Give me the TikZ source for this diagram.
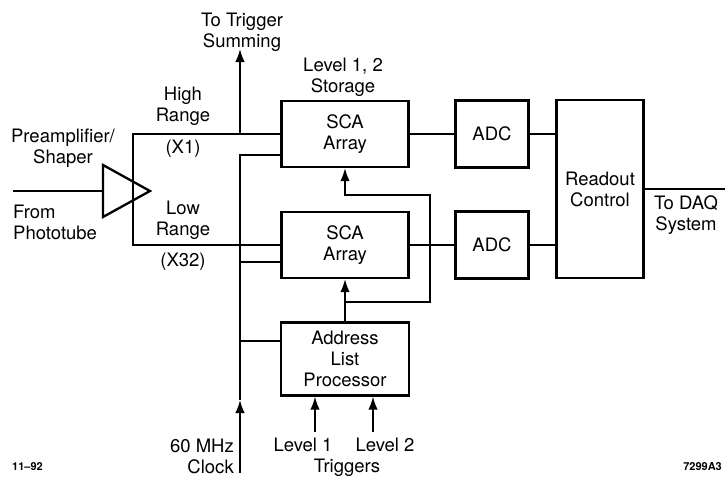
\documentclass[tikz,border=0pt]{standalone}
\usepackage{fontspec}
\setmainfont{TeX Gyre Heros}
\usetikzlibrary{arrows.meta}

\tikzset{
  blk/.style={draw, line width=2.3pt, align=center, inner sep=0pt},
  wire/.style={line width=1.6pt},
  sig/.style={line width=1.6pt, -{Latex[length=13pt,width=9.5pt]}},
  lbl/.style={align=center, inner sep=0pt},
  tag/.style={inner sep=0pt, font=\bfseries\fontsize{11}{13}\selectfont},
}

\begin{document}
\begin{tikzpicture}[x=1pt, y=-1pt, font=\fontsize{18.5}{21}\selectfont]
\useasboundingbox (0,0) rectangle (725,482);
% blocks
\node[blk, minimum width=127pt, minimum height=66pt] (sca1) at (345,134) {SCA\\Array};
\node[blk, minimum width=127pt, minimum height=66pt] (sca2) at (345,245) {SCA\\Array};
\node[blk, minimum width=128pt, minimum height=73pt] (alp) at (345,359) {Address\\List\\Processor};
\node[blk, minimum width=73pt, minimum height=67pt] (adc1) at (492,134) {ADC};
\node[blk, minimum width=73pt, minimum height=67pt] (adc2) at (492,245) {ADC};
\node[blk, minimum width=87pt, minimum height=178pt] (ro) at (600,189) {Readout\\Control};
% preamplifier
\coordinate (pmt) at (13,191);
\coordinate (ampin) at (103,191);
\draw[line width=2.3pt] (103,165) -- (150,191) -- (103,217) -- cycle;
\draw[wire] (pmt) -- (ampin);
% points on the wires
\coordinate (hi) at (133,134);
\coordinate (lo) at (133,245);
\coordinate (tap) at (240,134);
\coordinate (tsum) at (240,49);
\coordinate (clk) at (240,473);
\coordinate (clkarr) at (240,400);
\coordinate (c1) at (240,155);
\coordinate (c2) at (240,262);
\coordinate (c3) at (240,341);
\coordinate (fb) at (345,302);
\coordinate (fbr) at (430,195);
\coordinate (lv1) at (315,432);
\coordinate (lv2) at (373,432);
\coordinate (daq) at (725,189);
% wires
\draw[wire] (sca1.west) -- (hi) -- (lo) -- (sca2.west);
\draw[sig] (tap) -- (tsum);
\draw[sig] (clk) -- (clkarr);
\draw[wire] (clkarr) -- (c1) -- (c1 -| sca1.west);
\draw[wire] (c2) -- (c2 -| sca2.west);
\draw[wire] (c3) -- (c3 -| alp.west);
\draw[sig] (alp.north) -- (sca2.south);
\draw[sig] (fb) -| (fbr) -| (sca1.south);
\draw[sig] (lv1) -- (lv1 |- alp.south);
\draw[sig] (lv2) -- (lv2 |- alp.south);
\draw[wire] (sca1.east) -- (adc1.west);
\draw[wire] (sca2.east) -- (adc2.west);
\draw[wire] (adc1.east) -- (adc1.east -| ro.west);
\draw[wire] (adc2.east) -- (adc2.east -| ro.west);
\draw[wire] (ro.east) -- (daq);
% labels
\node[lbl] (preamp) at (63,148) {Preamplifier/\\Shaper};
\node[lbl, align=left, anchor=west] (pmtlbl) at (13,222) {From\\Phototube};
\node[lbl] (hilbl) at (183,106) {High\\Range};
\node[lbl] (x1) at (183,149) {(X1)};
\node[lbl] (lolbl) at (183,220) {Low\\Range};
\node[lbl] (x32) at (183,262) {(X32)};
\node[lbl] (tsumlbl) at (242,32) {To Trigger\\Summing};
\node[lbl] (stor) at (343,77) {Level 1, 2\\Storage};
\node[lbl] (daqlbl) at (686,215) {To DAQ\\System};
\node[lbl, align=right, anchor=east] (clklbl) at (234,456) {60 MHz\\Clock};
\node[lbl] (lv1lbl) at (303,445) {Level 1};
\node[lbl] (lv2lbl) at (385,445) {Level 2};
\node[lbl] (trig) at (347,468) {Triggers};
\node[tag, anchor=west] (date) at (12,467) {11--92};
\node[tag, anchor=east] (fig) at (722,467) {7299A3};
\end{tikzpicture}
\end{document}
